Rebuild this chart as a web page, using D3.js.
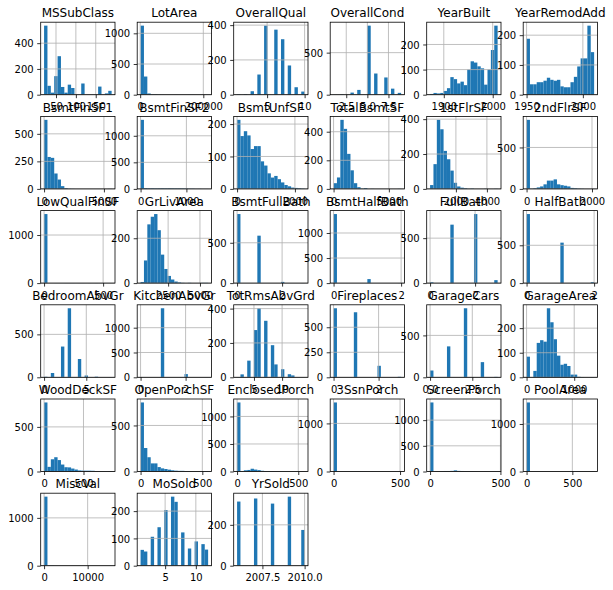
<!DOCTYPE html>
<html>
<head>
<meta charset="utf-8">
<script src="https://cdn.jsdelivr.net/npm/d3@7"></script>
<style>
  body { margin: 0; background: #fff; }
  svg { display: block; }
</style>
</head>
<body>
<div id="chart"></div>
<script>
// one histogram per column, 20 bins each
const columns = ["MSSubClass", "LotArea", "OverallQual", "OverallCond", "YearBuilt", "YearRemodAdd",
  "BsmtFinSF1", "BsmtFinSF2", "BsmtUnfSF", "TotalBsmtSF", "1stFlrSF", "2ndFlrSF",
  "LowQualFinSF", "GrLivArea", "BsmtFullBath", "BsmtHalfBath", "FullBath", "HalfBath",
  "BedroomAbvGr", "KitchenAbvGr", "TotRmsAbvGrd", "Fireplaces", "GarageCars", "GarageArea",
  "WoodDeckSF", "OpenPorchSF", "EnclosedPorch", "3SsnPorch", "ScreenPorch", "PoolArea",
  "MiscVal", "MoSold", "YrSold"];

const binLo = [20, 1300, 1, 1, 1872, 1950, 0, 0, 0, 0, 334, 0, 0, 334, 0, 0, 0, 0,
  0, 0, 2, 0, 0, 0, 0, 0, 0, 0, 0, 0, 0, 1, 2006];
const binHi = [190, 215245, 10, 9, 2010, 2010, 5644, 1474, 2336, 6110, 4692, 2065, 572, 5642, 3, 2, 3, 2,
  8, 3, 14, 3, 4, 1418, 857, 547, 552, 508, 480, 738, 15500, 12, 2010];

const counts = [
  [536, 69, 16, 144, 299, 60, 16, 78, 52, 0, 0, 87, 0, 0, 0, 0, 63, 0, 10, 30],
  [1125, 296, 20, 7, 6, 2, 1, 0, 0, 0, 1, 0, 0, 0, 1, 1, 0, 0, 0, 1],
  [2, 0, 3, 0, 20, 0, 116, 0, 397, 0, 0, 374, 0, 319, 0, 168, 0, 43, 0, 18],
  [1, 0, 5, 0, 0, 25, 0, 57, 0, 0, 821, 0, 252, 0, 0, 205, 0, 72, 0, 22],
  [3, 7, 5, 7, 15, 26, 70, 62, 45, 52, 38, 100, 133, 128, 113, 105, 40, 100, 178, 275],
  [188, 35, 35, 42, 42, 47, 57, 50, 47, 50, 28, 25, 25, 42, 60, 95, 122, 122, 232, 143],
  [627, 290, 282, 140, 85, 25, 7, 2, 1, 0, 0, 0, 0, 0, 0, 0, 0, 0, 0, 1],
  [1300, 15, 12, 12, 10, 11, 12, 11, 12, 11, 10, 10, 9, 8, 5, 5, 2, 3, 1, 1],
  [213, 163, 178, 165, 123, 132, 132, 85, 72, 48, 35, 40, 30, 20, 12, 8, 4, 3, 2, 1],
  [40, 80, 483, 420, 245, 130, 40, 12, 2, 6, 0, 1, 0, 0, 0, 0, 0, 0, 0, 1],
  [22, 142, 396, 342, 218, 170, 105, 35, 14, 7, 4, 1, 2, 0, 0, 0, 1, 0, 0, 1],
  [833, 2, 8, 18, 30, 55, 100, 100, 115, 55, 45, 38, 30, 12, 8, 4, 2, 0, 0, 1],
  [1436, 0, 0, 1, 1, 1, 2, 2, 2, 1, 2, 2, 1, 2, 1, 2, 1, 1, 1, 1],
  [5, 101, 262, 296, 308, 236, 127, 63, 32, 16, 7, 3, 1, 0, 1, 0, 0, 0, 1, 1],
  [856, 0, 0, 0, 0, 0, 588, 0, 0, 0, 0, 0, 0, 15, 0, 0, 0, 0, 0, 1],
  [1378, 0, 0, 0, 0, 0, 0, 0, 0, 0, 80, 0, 0, 0, 0, 0, 0, 0, 0, 2],
  [9, 0, 0, 0, 0, 0, 650, 0, 0, 0, 0, 0, 0, 768, 0, 0, 0, 0, 0, 33],
  [913, 0, 0, 0, 0, 0, 0, 0, 0, 0, 535, 0, 0, 0, 0, 0, 0, 0, 0, 12],
  [6, 0, 50, 0, 0, 358, 0, 804, 0, 0, 213, 0, 21, 0, 0, 7, 0, 0, 0, 1],
  [1, 0, 0, 0, 0, 0, 1392, 0, 0, 0, 0, 0, 0, 65, 0, 0, 0, 0, 0, 2],
  [1, 17, 0, 97, 0, 275, 402, 0, 329, 0, 187, 75, 0, 47, 0, 18, 11, 0, 0, 1],
  [690, 0, 0, 0, 0, 0, 650, 0, 0, 0, 0, 0, 0, 115, 0, 0, 0, 0, 0, 5],
  [81, 0, 0, 0, 0, 369, 0, 0, 0, 0, 824, 0, 0, 0, 0, 181, 0, 0, 0, 5],
  [84, 0, 26, 140, 151, 145, 281, 224, 155, 88, 51, 55, 46, 11, 11, 2, 1, 0, 0, 1],
  [774, 52, 137, 160, 128, 78, 48, 46, 33, 22, 12, 10, 9, 9, 8, 5, 3, 2, 1, 5],
  [750, 255, 155, 88, 88, 48, 34, 27, 20, 13, 9, 7, 7, 5, 3, 2, 2, 1, 1, 4],
  [1254, 3, 22, 28, 50, 35, 25, 13, 9, 7, 5, 3, 2, 1, 1, 0, 0, 0, 0, 2],
  [1436, 0, 0, 1, 0, 4, 4, 5, 2, 2, 0, 2, 1, 0, 1, 0, 1, 0, 0, 1],
  [1344, 1, 5, 8, 10, 10, 12, 22, 12, 10, 8, 6, 5, 3, 1, 0, 2, 0, 0, 1],
  [1453, 0, 0, 0, 0, 0, 0, 0, 0, 0, 0, 0, 0, 2, 1, 2, 0, 1, 0, 1],
  [1444, 6, 5, 1, 1, 0, 0, 0, 1, 0, 1, 0, 0, 0, 0, 0, 0, 0, 0, 1],
  [58, 52, 0, 106, 0, 141, 0, 204, 0, 253, 234, 0, 122, 0, 63, 0, 89, 0, 79, 59],
  [314, 0, 0, 0, 0, 329, 0, 0, 0, 0, 304, 0, 0, 0, 0, 338, 0, 0, 0, 175]
];

const xTickVals = [[50, 100, 150], [0, 200000], [5, 10], [2.5, 5, 7.5], [1900, 2000], [1950, 2000],
  [0, 5000], [0, 1000], [0, 2000], [0, 5000], [2000, 4000], [0, 2000],
  [0, 500], [2500, 5000], [0, 2], [0, 2], [0, 2], [0, 2],
  [0, 5], [0, 2], [5, 10], [0, 2], [0, 2.5], [0, 1000],
  [0, 500], [0, 500], [0, 500], [0, 500], [0, 500], [0, 500],
  [0, 10000], [5, 10], [2007.5, 2010]];

const yTickVals = [[0, 200, 400], [0, 500, 1000], [0, 200, 400], [0, 500], [0, 100, 200], [0, 100, 200],
  [0, 250, 500], [0, 500, 1000], [0, 100, 200], [0, 200, 400], [0, 200, 400], [0, 500],
  [0, 1000], [0, 200], [0, 500], [0, 500, 1000], [0, 500], [0, 500],
  [0, 500], [0, 500, 1000], [0, 200, 400], [0, 250, 500], [0, 500], [0, 100, 200],
  [0, 500], [0, 500], [0, 500, 1000], [0, 1000], [0, 500, 1000], [0, 1000],
  [0, 1000], [0, 100, 200], [0, 200]];

const W = 613, H = 590;
const nCols = 6, nBins = 20;
const left0 = 40.7, colStep = 96.5, axW = 74.3;
const top0 = 22.2, rowStep = 94.2, axH = 72.5;
const font = "DejaVu Sans";

const svg = d3.select("#chart").append("svg")
  .attr("width", W)
  .attr("height", H);

svg.append("rect").attr("width", W).attr("height", H).attr("fill", "#fff");

function tickFmt(ticks) {
  const dec = ticks.some(t => t % 1 !== 0);
  return t => dec ? t.toFixed(1) : String(t);
}

columns.forEach((name, i) => {
  const c = i % nCols, r = Math.floor(i / nCols);
  const x0 = left0 + c * colStep, y0 = top0 + r * rowStep;
  const lo = binLo[i], hi = binHi[i], span = hi - lo, bw = span / nBins;

  const x = d3.scaleLinear().domain([lo - 0.05 * span, hi + 0.05 * span]).range([0, axW]);
  const y = d3.scaleLinear().domain([0, 1.05 * d3.max(counts[i])]).range([axH, 0]);

  const g = svg.append("g").attr("transform", "translate(" + x0 + "," + y0 + ")");

  g.append("rect").attr("width", axW).attr("height", axH).attr("fill", "#fff");

  g.selectAll("rect.bar")
    .data(counts[i])
    .enter().append("rect")
    .attr("class", "bar")
    .attr("x", (d, k) => x(lo + k * bw))
    .attr("width", (d, k) => x(lo + (k + 1) * bw) - x(lo + k * bw))
    .attr("y", d => y(d))
    .attr("height", d => axH - y(d))
    .attr("fill", "#1f77b4");

  // grid sits above the bars, like matplotlib's default
  g.selectAll("line.gx")
    .data(xTickVals[i])
    .enter().append("line")
    .attr("x1", d => x(d)).attr("x2", d => x(d))
    .attr("y1", 0).attr("y2", axH)
    .attr("stroke", "#b0b0b0").attr("stroke-width", 0.8);

  g.selectAll("line.gy")
    .data(yTickVals[i])
    .enter().append("line")
    .attr("x1", 0).attr("x2", axW)
    .attr("y1", d => y(d)).attr("y2", d => y(d))
    .attr("stroke", "#b0b0b0").attr("stroke-width", 0.8);

  const xa = g.append("g")
    .attr("transform", "translate(0," + axH + ")")
    .call(d3.axisBottom(x).tickValues(xTickVals[i]).tickFormat(tickFmt(xTickVals[i]))
      .tickSize(3.5).tickSizeOuter(0).tickPadding(3.5));
  const ya = g.append("g")
    .call(d3.axisLeft(y).tickValues(yTickVals[i]).tickFormat(tickFmt(yTickVals[i]))
      .tickSize(3.5).tickSizeOuter(0).tickPadding(3.5));

  [xa, ya].forEach(a => {
    a.select(".domain").remove();
    a.attr("font-family", font).attr("font-size", 10);
    a.selectAll("line").attr("stroke", "#000").attr("stroke-width", 0.8);
    a.selectAll("text").attr("fill", "#000");
  });
  xa.selectAll("text").attr("y", 15.7).attr("dy", null);
  ya.selectAll("text").attr("dy", "0.36em");

  g.append("rect")
    .attr("width", axW).attr("height", axH)
    .attr("fill", "none").attr("stroke", "#000").attr("stroke-width", 0.8);

  g.append("text")
    .attr("x", axW / 2).attr("y", -4.8)
    .attr("text-anchor", "middle")
    .attr("font-family", font).attr("font-size", 12)
    .attr("fill", "#000")
    .text(name);
});
</script>
</body>
</html>
